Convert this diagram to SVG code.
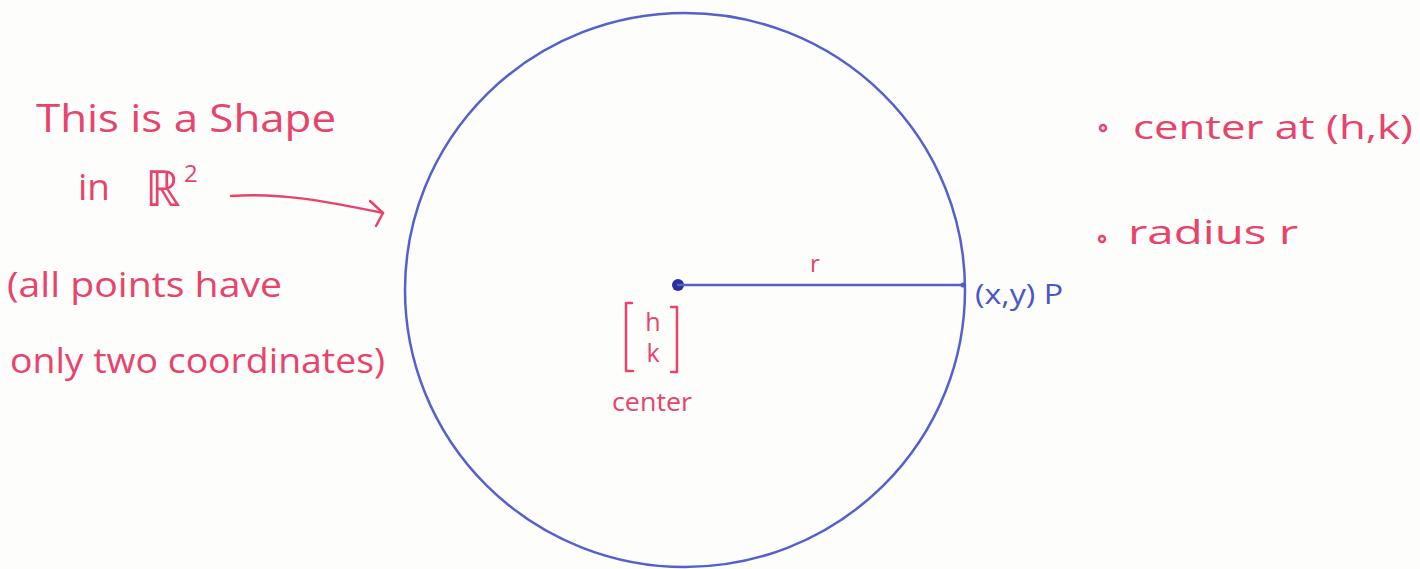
<svg xmlns="http://www.w3.org/2000/svg" width="1420" height="569" viewBox="0 0 1420 569">
<style>
.red{fill:#e8436b;font-family:"Open Sans","Liberation Sans",sans-serif;}
.blue{fill:#4c56c4;font-family:"Open Sans","Liberation Sans",sans-serif;}
.rs{fill:none;stroke:#e8436b;stroke-width:2.5;stroke-linecap:round;stroke-linejoin:round;}
.bs{fill:none;stroke:#5560cc;stroke-width:2.5;stroke-linecap:round;}
</style>
<rect width="1420" height="569" fill="#fdfdfb"/>
<g id="circle">
<ellipse cx="685" cy="290" rx="280" ry="277" class="bs"/>
</g>
<g id="center-point">
<circle cx="678" cy="285" r="6" fill="#2a2f9a"/>
<path class="rs" d="M632,303 L626,303 L626,371 L633,371"/>
<path class="rs" d="M671,307 L677,307 L677,372 L671,372"/>
<text class="red" x="653" y="331" font-size="25" text-anchor="middle">h</text>
<text class="red" x="653" y="362" font-size="25" text-anchor="middle">k</text>
<text class="red" x="652" y="411" font-size="26" text-anchor="middle" textLength="80" lengthAdjust="spacingAndGlyphs">center</text>
</g>
<g id="point-p">
<circle cx="963" cy="285" r="2.5" fill="#4c56c4"/>
<text class="blue" x="975" y="304" font-size="28" textLength="88" lengthAdjust="spacingAndGlyphs">(x,y) P</text>
</g>
<g id="left-note">
<text class="red" x="36" y="132" font-size="38" textLength="300" lengthAdjust="spacingAndGlyphs">This is a Shape</text>
<text class="red" x="78" y="200" font-size="36" textLength="32" lengthAdjust="spacingAndGlyphs">in</text>
<text class="red" x="145" y="206" font-size="50" font-family="'DejaVu Sans',sans-serif">ℝ</text>
<text class="red" x="184" y="182" font-size="24">2</text>
<text class="red" x="7" y="297" font-size="34" textLength="275" lengthAdjust="spacingAndGlyphs">(all points have</text>
<text class="red" x="10" y="373" font-size="34" textLength="375" lengthAdjust="spacingAndGlyphs">only two coordinates)</text>
</g>
<g id="right-note">
<circle cx="1103" cy="128" r="3" class="rs" stroke-width="2"/>
<text class="red" x="1133" y="139" font-size="32" textLength="280" lengthAdjust="spacingAndGlyphs">center at (h,k)</text>
<circle cx="1102" cy="239" r="3" class="rs" stroke-width="2"/>
<text class="red" x="1128" y="244" font-size="32" textLength="170" lengthAdjust="spacingAndGlyphs">radius r</text>
</g>
<g id="connectors">
<path class="bs" d="M678,285 L963,285"/>
<text class="red" x="815" y="272" font-size="24" text-anchor="middle">r</text>
<path class="rs" d="M231,196 C280,192 330,202 383,213"/>
<path class="rs" d="M370,201 L383,213 L376,226"/>
</g>
</svg>
